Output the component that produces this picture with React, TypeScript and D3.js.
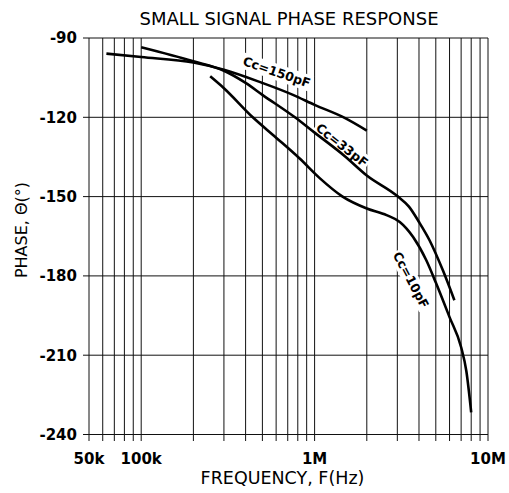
import { useEffect, useRef } from "react";
import * as d3 from "d3";

// axis ticks
const xTickValues = [5e4, 1e5, 1e6, 1e7];
const xTickLabels = ["50k", "100k", "1M", "10M"];
const yTickValues = [-90, -120, -150, -180, -210, -240];

// Cc = 150pF
const cc150Freq = [63e3, 100e3, 200e3, 300e3, 500e3, 750e3, 1e6, 1.5e6, 2e6];
const cc150Phase = [-95.9, -97.2, -99.3, -102.0, -107.0, -111.5, -115.3, -120.3, -125.0];

// Cc = 33pF
const cc33Freq = [100e3, 200e3, 300e3, 400e3, 500e3, 770e3, 1e6, 1.5e6, 2e6, 3e6, 3.5e6, 4e6, 4.6e6, 5.5e6, 6.4e6];
const cc33Phase = [-93.5, -98.8, -102.4, -107.0, -111.5, -120.0, -125.8, -134.8, -142.0, -149.8, -153.8, -159.6, -166.5, -178.0, -189.2];

// Cc = 10pF
const cc10Freq = [250e3, 300e3, 440e3, 600e3, 820e3, 1.07e6, 1.45e6, 2e6, 2.6e6, 3.1e6, 3.7e6, 4.4e6, 5e6, 6e6, 7e6, 7.5e6, 8e6];
const cc10Phase = [-104.5, -109.0, -120.0, -127.7, -135.6, -143.0, -150.0, -154.5, -157.0, -159.6, -165.3, -174.0, -182.5, -195.6, -207.0, -216.0, -231.6];

const seriesNames = ["Cc=150pF", "Cc=33pF", "Cc=10pF"];

const App = () => {
  const svgRef = useRef(null);

  useEffect(() => {
    const svg = d3.select(svgRef.current);
    svg.selectAll("*").remove();

    const W = 509;
    const H = 493;
    const margin = { top: 38, right: 21, bottom: 58.5, left: 89 };
    const font = "'DejaVu Sans', sans-serif";

    const x = d3.scaleLog().domain([5e4, 1e7]).range([margin.left, W - margin.right]);
    const y = d3.scaleLinear().domain([-240, -90]).range([H - margin.bottom, margin.top]);

    svg.append("rect").attr("width", W).attr("height", H).attr("fill", "#fff");

    // vertical grid (every 1..9 per decade) with small ticks below
    svg
      .append("g")
      .selectAll("line")
      .data(x.ticks())
      .enter()
      .append("line")
      .attr("x1", (d) => x(d))
      .attr("x2", (d) => x(d))
      .attr("y1", y(-90))
      .attr("y2", y(-240) + 6.5)
      .attr("stroke", "#111")
      .attr("stroke-width", 1);

    // horizontal grid
    svg
      .append("g")
      .selectAll("line")
      .data(yTickValues)
      .enter()
      .append("line")
      .attr("x1", x(5e4) - 6)
      .attr("x2", x(1e7))
      .attr("y1", (d) => y(d))
      .attr("y2", (d) => y(d))
      .attr("stroke", "#111")
      .attr("stroke-width", 1);

    // y tick labels
    svg
      .append("g")
      .selectAll("text")
      .data(yTickValues)
      .enter()
      .append("text")
      .attr("x", x(5e4) - 12)
      .attr("y", (d) => y(d))
      .attr("dy", "0.36em")
      .attr("text-anchor", "end")
      .style("font-family", font)
      .style("font-size", "15px")
      .style("font-weight", "bold")
      .text((d) => d);

    // x tick labels
    svg
      .append("g")
      .selectAll("text")
      .data(xTickValues)
      .enter()
      .append("text")
      .attr("x", (d) => x(d))
      .attr("y", 464)
      .attr("text-anchor", "middle")
      .style("font-family", font)
      .style("font-size", "15px")
      .style("font-weight", "bold")
      .text((d, i) => xTickLabels[i]);

    // title + axis titles
    svg
      .append("text")
      .attr("x", 289)
      .attr("y", 25)
      .attr("text-anchor", "middle")
      .style("font-family", font)
      .style("font-size", "18px")
      .text("SMALL SIGNAL PHASE RESPONSE");

    svg
      .append("text")
      .attr("x", 282.5)
      .attr("y", 484)
      .attr("text-anchor", "middle")
      .style("font-family", font)
      .style("font-size", "17.5px")
      .text("FREQUENCY, F(Hz)");

    svg
      .append("text")
      .attr("transform", "translate(27,230) rotate(-90)")
      .attr("text-anchor", "middle")
      .style("font-family", font)
      .style("font-size", "16px")
      .text("PHASE, \u0398(\u00b0)");

    // curve labels with white boxes
    const labelSpots = [
      { f: 6.05e5, p: -102.9, angle: 19 },
      { f: 1.44e6, p: -130.5, angle: 38 },
      { f: 3.6e6, p: -181.5, angle: 62 },
    ];
    seriesNames.forEach((name, i) => {
      const spot = labelSpots[i];
      const g = svg
        .append("g")
        .attr("transform", `translate(${x(spot.f)},${y(spot.p)}) rotate(${spot.angle})`);
      const bg = g.append("rect").attr("fill", "#fff");
      const t = g
        .append("text")
        .attr("text-anchor", "middle")
        .attr("dy", "0.36em")
        .style("font-family", font)
        .style("font-size", "12.5px")
        .style("font-weight", "bold")
        .text(name);
      const bb = t.node().getBBox();
      bg.attr("x", bb.x - 1.5)
        .attr("y", bb.y - 0.5)
        .attr("width", bb.width + 3)
        .attr("height", bb.height + 1);
    });

    // curves
    const line = d3
      .line()
      .x((d) => x(d[0]))
      .y((d) => y(d[1]))
      .curve(d3.curveMonotoneX);

    const series = [
      d3.zip(cc150Freq, cc150Phase),
      d3.zip(cc33Freq, cc33Phase),
      d3.zip(cc10Freq, cc10Phase),
    ];

    svg
      .append("g")
      .selectAll("path")
      .data(series)
      .enter()
      .append("path")
      .attr("d", (d) => line(d))
      .attr("fill", "none")
      .attr("stroke", "#000")
      .attr("stroke-width", 2.6)
      .attr("stroke-linecap", "butt");
  }, []);

  return (
    <svg
      ref={svgRef}
      width={509}
      height={493}
      style={{ position: "absolute", left: 0, top: 0 }}
    ></svg>
  );
};

export default App;
